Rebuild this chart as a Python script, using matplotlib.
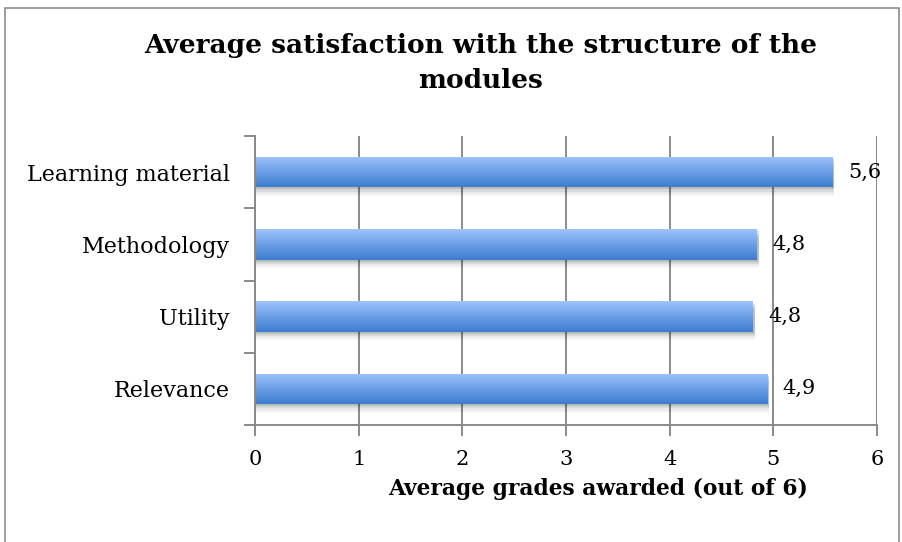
import matplotlib
matplotlib.use("Agg")
import matplotlib.pyplot as plt
import numpy as np
from matplotlib.patches import Rectangle
from matplotlib.colors import LinearSegmentedColormap

# данные
categories = ['Relevance', 'Utility', 'Methodology', 'Learning material']
values = [4.94, 4.8, 4.84, 5.57]
xticks = [0, 1, 2, 3, 4, 5, 6]

plt.rcParams['font.family'] = ['DejaVu Serif']

W, H = 903, 542
fig = plt.figure(figsize=(W/100, H/100), dpi=100)
fig.patch.set_facecolor('white')

# рамка диаграммы
fig.patches.append(Rectangle((5/W, -0.05), (899-5)/W, 1.05-8/H, transform=fig.transFigure,
                             fill=False, edgecolor='#8c8c8c', linewidth=1.2))

ax = fig.add_axes([255/W, 1-425/H, (877-255)/W, (425-136)/H])
ax.set_xlim(0, 6)
ax.set_ylim(-0.5, len(categories)-0.5)

gray = '#8a8a8a'
for x in xticks:
    ax.axvline(x, color=gray, linewidth=1.4, zorder=0)

cmap = LinearSegmentedColormap.from_list('bar', ['#3d7ccf', '#6b9fe6', '#9dc3fc'])
grad = np.linspace(0, 1, 100).reshape(-1, 1)
bh = 0.42
for i, v in enumerate(values):
    # тень
    for k, a in enumerate([0.12, 0.08, 0.05, 0.03]):
        sh = Rectangle((0, i-bh/2-0.03*(k+1)), v+0.02, bh, facecolor='#000000', alpha=a,
                       edgecolor='none', zorder=1)
        ax.add_patch(sh)
    rect = Rectangle((0, i-bh/2), v, bh, facecolor='none', edgecolor='none', zorder=2)
    ax.add_patch(rect)
    im = ax.imshow(grad, extent=(0, v, i-bh/2, i+bh/2), aspect='auto', cmap=cmap,
                   origin='lower', zorder=2)
    im.set_clip_path(rect)
    ax.text(v+0.15, i, ('%.1f' % v).replace('.', ','), va='center', ha='left',
            fontsize=15, zorder=3)

ax.set_xticks(xticks)
ax.set_xticklabels([str(x) for x in xticks], fontsize=15)
ax.set_yticks(range(len(categories)))
ax.set_yticklabels(categories, fontsize=16)
ax.set_yticks(np.arange(-0.5, len(categories), 1), minor=True)
ax.tick_params(axis='y', which='major', length=0, pad=18)
ax.tick_params(axis='y', which='minor', length=8, color=gray, width=1.4)
ax.tick_params(axis='x', length=8, color=gray, width=1.4, pad=10)

for s in ['top', 'right']:
    ax.spines[s].set_visible(False)
for s in ['left', 'bottom']:
    ax.spines[s].set_color(gray)
    ax.spines[s].set_linewidth(1.4)

fig.text(598/W, 1-489/H, 'Average grades awarded (out of 6)', ha='center', va='center',
         fontsize=15.7, fontweight='bold')
fig.text(481/W, 1-63/H, 'Average satisfaction with the structure of the\nmodules',
         ha='center', va='center', fontsize=19, fontweight='bold', linespacing=1.45)

fig.savefig('out.png', dpi=100, facecolor='white')
